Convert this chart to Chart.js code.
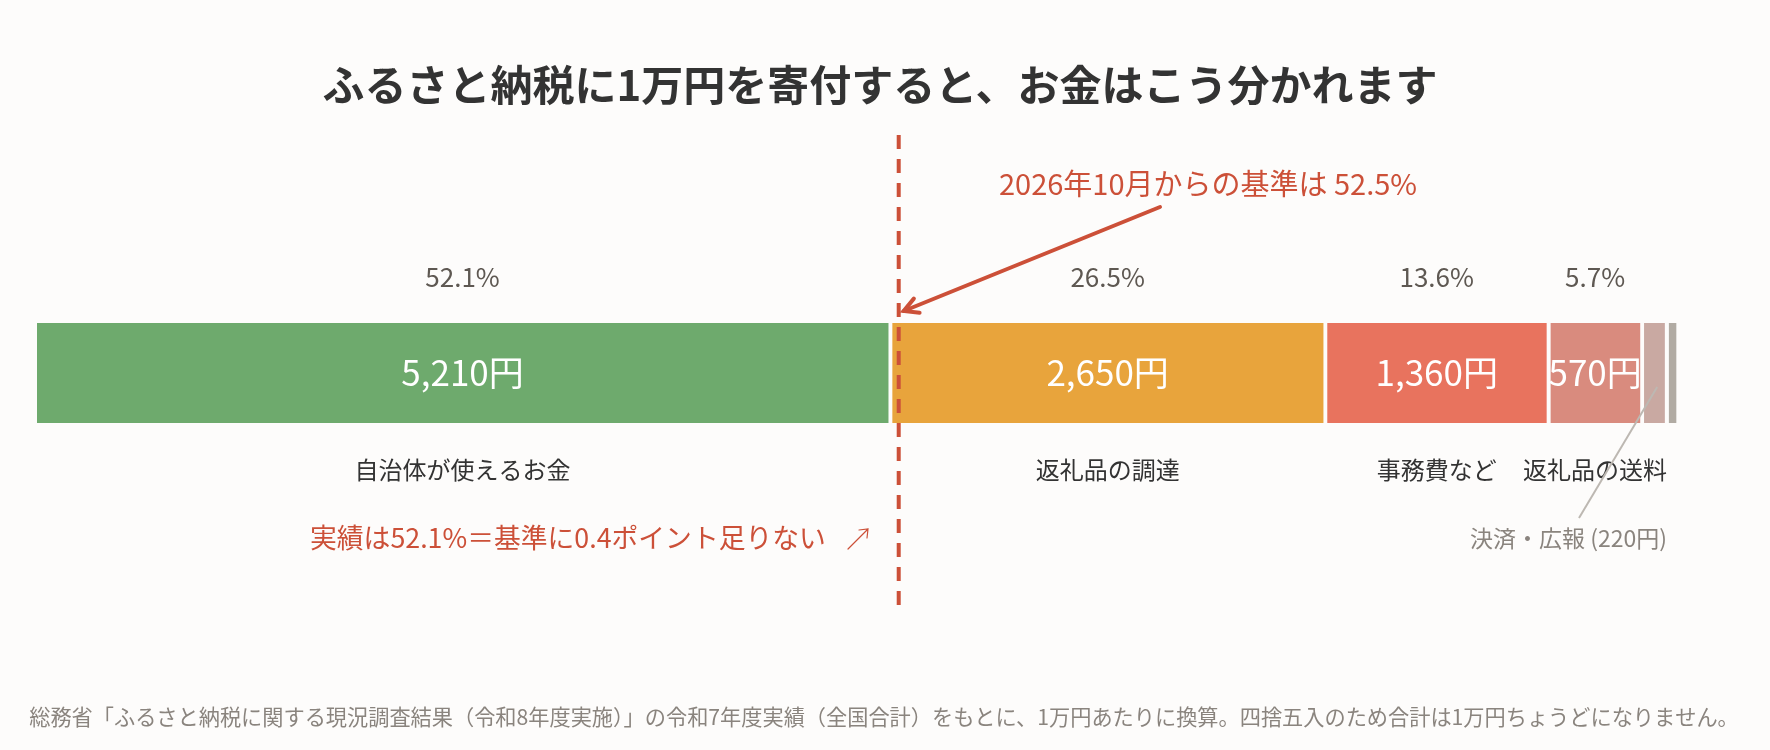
<!DOCTYPE html>
<html lang="ja">
<head>
<meta charset="utf-8">
<title>ふるさと納税 1万円の内訳</title>
<script src="https://cdn.jsdelivr.net/npm/chart.js@4.4.1/dist/chart.umd.min.js"></script>
<style>
  html, body { margin:0; padding:0; background:#fdfcfb; }
  #wrap { width:1770px; height:750px; }
</style>
</head>
<body>
<div id="wrap"><canvas id="chart" width="1770" height="750"></canvas></div>
<script>
// ── Data ──────────────────────────────────────────────────────────────────────
const SEGMENTS   = ["自治体が使えるお金", "返礼品の調達", "事務費など", "返礼品の送料", "決済", "広報"];
const YEN        = [5210, 2650, 1360, 570, 150, 70];
const PCT_LABELS = ["52.1%", "26.5%", "13.6%", "5.7%", "", ""];
const NAME_LABELS = ["自治体が使えるお金", "返礼品の調達", "事務費など", "返礼品の送料", "", ""];
const COLORS     = ["#6eaa6d", "#e8a43c", "#e8735e", "#d98b7e", "#c9a9a2", "#b1aba3"];
const THRESHOLD  = 5250;   // 52.5% of 10,000円
const SMALL_NOTE = "決済・広報 (220円)";

const TITLE    = "ふるさと納税に1万円を寄付すると、お金はこう分かれます";
const NOTE_TOP = "2026年10月からの基準は 52.5%";
const NOTE_LOW = "実績は52.1%＝基準に0.4ポイント足りない";
const SOURCE   = "総務省「ふるさと納税に関する現況調査結果（令和8年度実施）」の令和7年度実績（全国合計）をもとに、1万円あたりに換算。四捨五入のため合計は1万円ちょうどになりません。";

const BG   = "#fdfcfb";
const RED  = "#cc5038";
const FONT = "'Noto Sans CJK JP', 'Noto Sans', sans-serif";
const TOTAL = YEN.reduce((a, b) => a + b, 0);

function yenFmt(v) { return v.toLocaleString("ja-JP") + "円"; }

// ── Overlay text / annotations ────────────────────────────────────────────────
const overlay = {
  id: "overlay",
  afterDraw(chart) {
    const ctx = chart.ctx;
    const x = chart.scales.x;
    const area = chart.chartArea;
    const midY = (area.top + area.bottom) / 2;
    ctx.save();
    ctx.textAlign = "center";
    ctx.textBaseline = "middle";

    // title
    ctx.fillStyle = "#333";
    ctx.font = `bold 42px ${FONT}`;
    ctx.fillText(TITLE, 880, 85);

    // per-segment labels
    let cum = 0;
    const centers = [];
    YEN.forEach((v, i) => {
      const cx = (x.getPixelForValue(cum) + x.getPixelForValue(cum + v)) / 2 - 2;
      centers.push(cx);
      cum += v;
      if (PCT_LABELS[i]) {
        ctx.fillStyle = "#5e5852";
        ctx.font = `26px ${FONT}`;
        ctx.fillText(PCT_LABELS[i], cx, 277);
      }
      if (NAME_LABELS[i]) {
        ctx.fillStyle = "#fff";
        ctx.font = `35px ${FONT}`;
        ctx.fillText(yenFmt(v), cx, midY);
        ctx.fillStyle = "#333";
        ctx.font = `24px ${FONT}`;
        ctx.fillText(NAME_LABELS[i], cx, 470);
      }
    });

    // small segments note + leader line
    ctx.strokeStyle = "#bdb8b2";
    ctx.lineWidth = 2;
    ctx.beginPath();
    ctx.moveTo(centers[4] + 3, midY + 14);
    ctx.lineTo(1579, 518);
    ctx.stroke();
    ctx.fillStyle = "#8a847e";
    ctx.font = `23px ${FONT}`;
    ctx.textAlign = "right";
    ctx.fillText(SMALL_NOTE, 1667, 538);

    // threshold dashed line
    const tx = x.getPixelForValue(THRESHOLD);
    ctx.strokeStyle = RED;
    ctx.lineWidth = 4;
    ctx.setLineDash([14, 10]);
    ctx.beginPath();
    ctx.moveTo(tx, 135);
    ctx.lineTo(tx, 611);
    ctx.stroke();
    ctx.setLineDash([]);

    // top note + arrow
    ctx.fillStyle = RED;
    ctx.textAlign = "center";
    ctx.font = `29px ${FONT}`;
    ctx.fillText(NOTE_TOP, 1208, 184);
    const sx = 1160, sy = 207, ex = tx + 5, ey = 311;
    ctx.lineWidth = 4;
    ctx.lineCap = "round";
    ctx.beginPath();
    ctx.moveTo(sx, sy);
    ctx.lineTo(ex, ey);
    ctx.stroke();
    const ang = Math.atan2(ey - sy, ex - sx);
    ctx.beginPath();
    ctx.moveTo(ex - 16 * Math.cos(ang - 0.5), ey - 16 * Math.sin(ang - 0.5));
    ctx.lineTo(ex, ey);
    ctx.lineTo(ex - 16 * Math.cos(ang + 0.5), ey - 16 * Math.sin(ang + 0.5));
    ctx.stroke();

    // lower note
    ctx.font = `26.8px ${FONT}`;
    ctx.textAlign = "left";
    ctx.fillText(NOTE_LOW, 310, 538);
    ctx.lineWidth = 1.2;
    ctx.beginPath();
    ctx.moveTo(848, 549);
    ctx.lineTo(868, 529);
    ctx.moveTo(859, 530);
    ctx.lineTo(868, 529);
    ctx.lineTo(867, 538);
    ctx.stroke();

    // source
    ctx.fillStyle = "#8a847e";
    ctx.font = `21.2px ${FONT}`;
    ctx.textAlign = "center";
    ctx.fillText(SOURCE, 884, 717);

    ctx.restore();
  }
};

// ── Chart ─────────────────────────────────────────────────────────────────────
new Chart(document.getElementById("chart").getContext("2d"), {
  type: "bar",
  data: {
    labels: ["1万円"],
    datasets: SEGMENTS.map((name, i) => ({
      label: name,
      data: [YEN[i]],
      backgroundColor: COLORS[i],
      borderColor: BG,
      borderWidth: { top: 0, bottom: 0, left: 0, right: 4 },
      borderSkipped: false,
      barPercentage: 1,
      categoryPercentage: 1
    }))
  },
  options: {
    indexAxis: "y",
    responsive: false,
    animation: false,
    devicePixelRatio: 1,
    layout: { padding: { left: 37, right: 1770 - 1680, top: 323, bottom: 750 - 423 } },
    plugins: { legend: { display: false }, tooltip: { enabled: false } },
    scales: {
      x: { stacked: true, display: false, min: 0, max: TOTAL },
      y: { stacked: true, display: false }
    }
  },
  plugins: [overlay]
});
</script>
</body>
</html>
